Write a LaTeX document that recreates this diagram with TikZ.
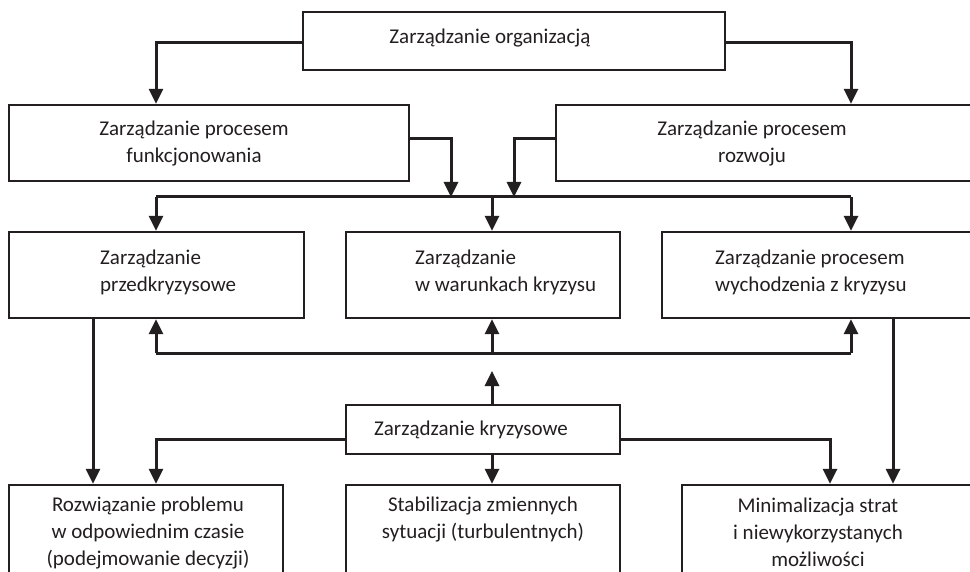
\documentclass[tikz,border=0pt]{standalone}
\usepackage{fontspec}
\setmainfont{Carlito}
\usetikzlibrary{arrows.meta,calc}
\definecolor{ink}{HTML}{231F20}
\tikzset{
  box/.style={draw=ink, line width=2.3pt, fill=none, inner sep=0pt},
  conn/.style={draw=ink, line width=3pt, -{Triangle[width=14pt,length=15pt]}},
  plain/.style={draw=ink, line width=3pt},
  lbl/.style={text=ink, font=\fontsize{21}{27}\selectfont, inner sep=0pt},
}
\begin{document}
\begin{tikzpicture}[x=1pt,y=-1pt]
\useasboundingbox (0,0) rectangle (970,572);
\clip (0,0) rectangle (970,572);
\fill[white] (0,0) rectangle (970,572);

% boxes
\node (org) [box, minimum width=422pt, minimum height=58pt] at (514,41) {};
\node (func) [box, minimum width=400pt, minimum height=76pt] at (209,143) {};
\node (rozw) [box, minimum width=429pt, minimum height=76pt] at (770.5,143) {};
\node (przed) [box, minimum width=295pt, minimum height=86pt] at (156.5,275) {};
\node (warun) [box, minimum width=274pt, minimum height=86pt] at (483,275) {};
\node (wych) [box, minimum width=323pt, minimum height=86pt] at (823.5,275) {};
\node (kryz) [box, minimum width=274pt, minimum height=49pt] at (483,429.5) {};
\node (rozwiaz) [box, minimum width=274pt, minimum height=105pt] at (146,537.5) {};
\node (stab) [box, minimum width=274pt, minimum height=105pt] at (483,537.5) {};
\node (minim) [box, minimum width=303pt, minimum height=105pt] at (833.5,537.5) {};

% labels
\node[lbl] (t-org) at (490,38) {Zarządzanie organizacją};
\node[lbl, align=center] (t-func) at (194,144) {Zarządzanie procesem\\funkcjonowania};
\node[lbl, align=center] (t-rozw) at (752,144) {Zarządzanie procesem\\rozwoju};
\node[lbl, align=left, anchor=west] (t-przed) at (100,272) {Zarządzanie\\przedkryzysowe};
\node[lbl, align=left, anchor=west] (t-warun) at (415,272) {Zarządzanie\\w warunkach kryzysu};
\node[lbl, align=left, anchor=west] (t-wych) at (715,272) {Zarządzanie procesem\\wychodzenia z kryzysu};
\node[lbl] (t-kryz) at (471,430) {Zarządzanie kryzysowe};
\node[lbl, align=center] (t-rozwiaz) at (148,533) {Rozwiązanie problemu\\w odpowiednim czasie\\(podejmowanie decyzji)};
\node[lbl, align=center] (t-stab) at (483,520) {Stabilizacja zmiennych\\sytuacji (turbulentnych)};
\node[lbl, align=center] (t-minim) at (818,532) {Minimalizacja strat\\i niewykorzystanych\\możliwości};

% guide columns and rails
\coordinate (xL) at (156,0);
\coordinate (xM) at (492,0);
\coordinate (xR) at (851,0);
\coordinate (xA) at (451,0);
\coordinate (xB) at (514,0);
\coordinate (xP) at (93,0);
\coordinate (xQ) at (893,0);
\coordinate (xK) at (830,0);
\coordinate (railT) at (0,197);
\coordinate (railB) at (0,353);
\coordinate (kTip) at (492,371);

% top level
\draw[conn] ([yshift=-2pt]org.west) -| (xL |- func.north);
\draw[conn] ([yshift=-2pt]org.east) -| (xR |- rozw.north);

% into the upper rail
\draw[conn] ([yshift=4pt]func.east) -| (xA |- railT);
\draw[conn] ([yshift=4pt]rozw.west) -| (xB |- railT);
\draw[plain] (xL |- railT) -- (xR |- railT);
\draw[conn] (xL |- railT) -- (xL |- przed.north);
\draw[conn] (xM |- railT) -- (xM |- warun.north);
\draw[conn] (xR |- railT) -- (xR |- wych.north);

% lower rail
\draw[plain] (xL |- railB) -- (xR |- railB);
\draw[conn] (xL |- railB) -- (xL |- przed.south);
\draw[conn] (xM |- railB) -- (xM |- warun.south);
\draw[conn] (xR |- railB) -- (xR |- wych.south);
\draw[conn] (xM |- kryz.north) -- (kTip);

% crisis management outputs
\draw[conn] ([yshift=-10pt]kryz.west) -| (xL |- rozwiaz.north);
\draw[conn] (xM |- kryz.south) -- (xM |- stab.north);
\draw[conn] ([yshift=-10pt]kryz.east) -| (xK |- minim.north);
\draw[conn] (xP |- przed.south) -- (xP |- rozwiaz.north);
\draw[conn] (xQ |- wych.south) -- (xQ |- minim.north);
\end{tikzpicture}
\end{document}
